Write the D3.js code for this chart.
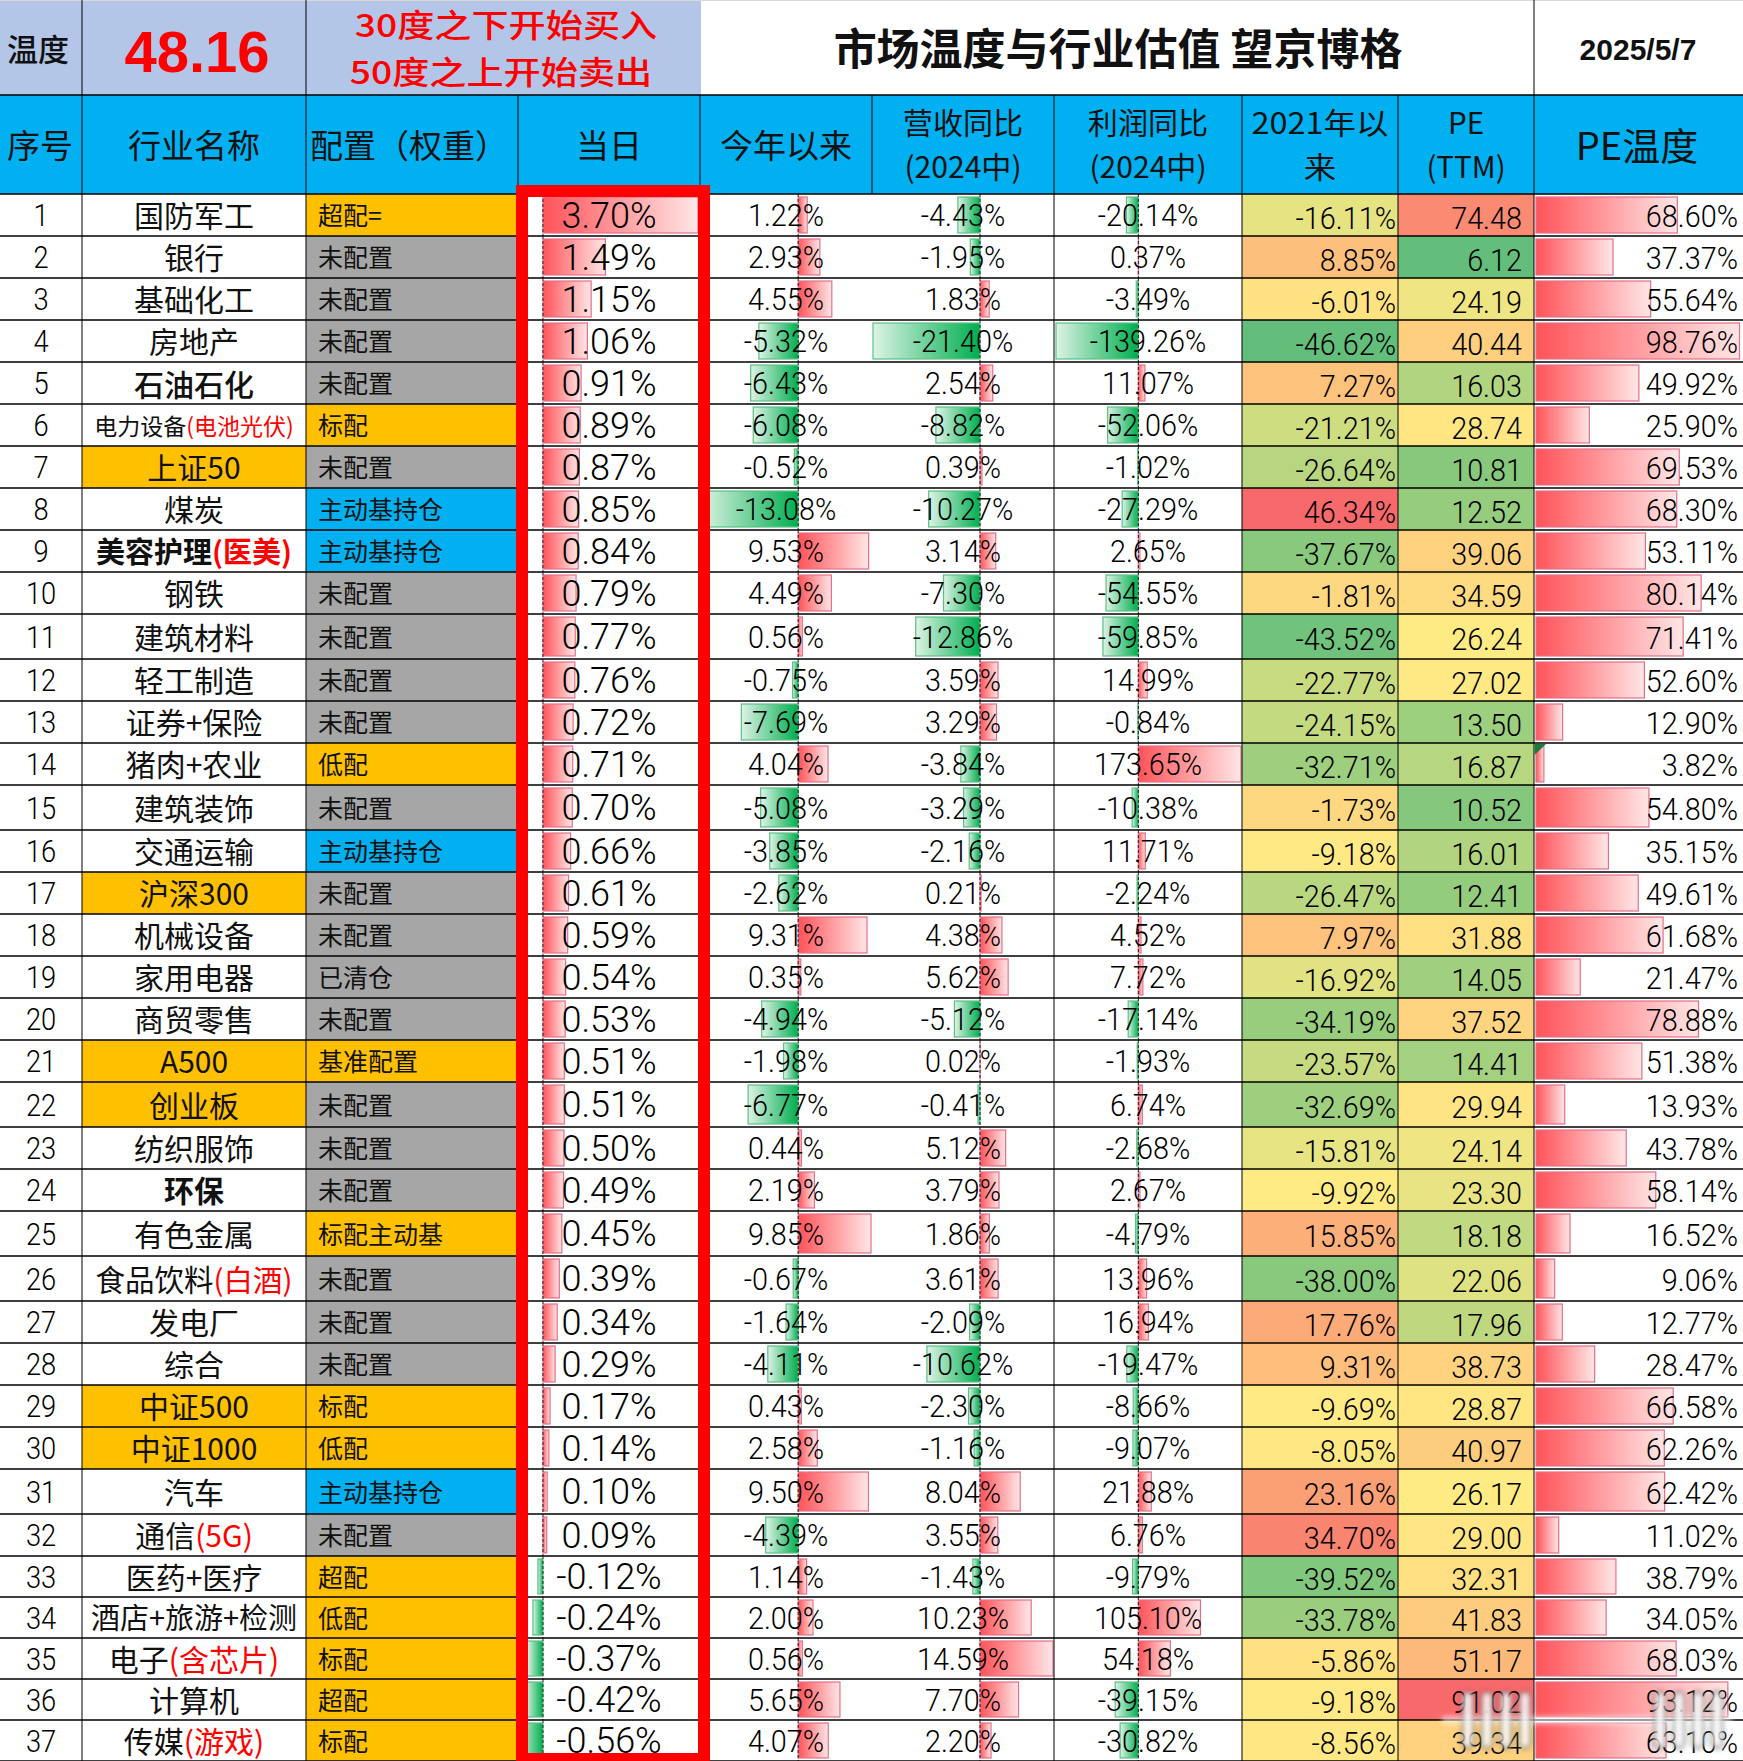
<!DOCTYPE html>
<html><head><meta charset="utf-8">
<style>html,body{margin:0;padding:0;background:#fff;overflow:hidden}svg{display:block}</style>
<script src="https://cdn.jsdelivr.net/npm/d3@7"></script></head><body>
<script>
const names=["国防军工","银行","基础化工","房地产","石油石化","电力设备","上证50","煤炭","美容护理","钢铁","建筑材料","轻工制造","证券+保险","猪肉+农业","建筑装饰","交通运输","沪深300","机械设备","家用电器","商贸零售","A500","创业板","纺织服饰","环保","有色金属","食品饮料","发电厂","综合","中证500","中证1000","汽车","通信","医药+医疗","酒店+旅游+检测","电子","计算机","传媒"];
const nameNotes={"电力设备":"(电池光伏)","美容护理":"(医美)","食品饮料":"(白酒)","通信":"(5G)","电子":"(含芯片)","传媒":"(游戏)"};
const indexNames=["上证50","沪深300","A500","创业板","中证500","中证1000"];
const configs=["超配=","未配置","未配置","未配置","未配置","标配","未配置","主动基持仓","主动基持仓","未配置","未配置","未配置","未配置","低配","未配置","主动基持仓","未配置","未配置","已清仓","未配置","基准配置","未配置","未配置","未配置","标配主动基","未配置","未配置","未配置","标配","低配","主动基持仓","未配置","超配","低配","标配","超配","标配"];
const daily=[3.70,1.49,1.15,1.06,0.91,0.89,0.87,0.85,0.84,0.79,0.77,0.76,0.72,0.71,0.70,0.66,0.61,0.59,0.54,0.53,0.51,0.51,0.50,0.49,0.45,0.39,0.34,0.29,0.17,0.14,0.10,0.09,-0.12,-0.24,-0.37,-0.42,-0.56];
const ytd=[1.22,2.93,4.55,-5.32,-6.43,-6.08,-0.52,-13.08,9.53,4.49,0.56,-0.75,-7.69,4.04,-5.08,-3.85,-2.62,9.31,0.35,-4.94,-1.98,-6.77,0.44,2.19,9.85,-0.67,-1.64,-4.11,0.43,2.58,9.50,-4.39,1.14,2.00,0.56,5.65,4.07];
const revenue=[-4.43,-1.95,1.83,-21.40,2.54,-8.82,0.39,-10.27,3.14,-7.30,-12.86,3.59,3.29,-3.84,-3.29,-2.16,0.21,4.38,5.62,-5.12,0.02,-0.41,5.12,3.79,1.86,3.61,-2.09,-10.62,-2.30,-1.16,8.04,3.55,-1.43,10.23,14.59,7.70,2.20];
const profit=[-20.14,0.37,-3.49,-139.26,11.07,-52.06,-1.02,-27.29,2.65,-54.55,-59.85,14.99,-0.84,173.65,-10.38,11.71,-2.24,4.52,7.72,-17.14,-1.93,6.74,-2.68,2.67,-4.79,13.96,16.94,-19.47,-8.66,-9.07,21.88,6.76,-9.79,105.10,54.18,-39.15,-30.82];
const since2021=[-16.11,8.85,-6.01,-46.62,7.27,-21.21,-26.64,46.34,-37.67,-1.81,-43.52,-22.77,-24.15,-32.71,-1.73,-9.18,-26.47,7.97,-16.92,-34.19,-23.57,-32.69,-15.81,-9.92,15.85,-38.00,17.76,9.31,-9.69,-8.05,23.16,34.70,-39.52,-33.78,-5.86,-9.18,-8.56];
const pe=[74.48,6.12,24.19,40.44,16.03,28.74,10.81,12.52,39.06,34.59,26.24,27.02,13.50,16.87,10.52,16.01,12.41,31.88,14.05,37.52,14.41,29.94,24.14,23.30,18.18,22.06,17.96,38.73,28.87,40.97,26.17,29.00,32.31,41.83,51.17,91.02,39.34];
const peTemp=[68.60,37.37,55.64,98.76,49.92,25.90,69.53,68.30,53.11,80.14,71.41,52.60,12.90,3.82,54.80,35.15,49.61,61.68,21.47,78.88,51.38,13.93,43.78,58.14,16.52,9.06,12.77,28.47,66.58,62.26,62.42,11.02,38.79,34.05,68.03,93.12,63.10];
const headers=[["序号"],["行业名称"],["配置（权重）"],["当日"],["今年以来"],["营收同比","(2024中)"],["利润同比","(2024中)"],["2021年以","来"],["PE","(TTM)"],["PE温度"]];

const W=1743,H=1761;
const CJK="'Noto Sans CJK SC','Noto Sans CJK JP',sans-serif", NUM="Roboto,'Liberation Sans',sans-serif";
const colX=[0,82,306,518,700,872,1054,1242,1398,1534,1743];
const tallRows=[11,15,22,25,26,31];
const rowH=names.map((_,i)=>tallRows.includes(i+1)?45:(i+1>=33?41:42));
const edges=[194,...d3.cumsum(rowH).map(v=>194+v)];
const yTop=i=>edges[i], yMid=i=>(edges[i]+edges[i+1])/2;

const svg=d3.select("body").append("svg").attr("width",W).attr("height",H);
const defs=svg.append("defs");
function grad(id,a,b){const g=defs.append("linearGradient").attr("id",id).attr("x1",0).attr("x2",1).attr("y1",0).attr("y2",0);
 g.append("stop").attr("offset",0).attr("stop-color",a);g.append("stop").attr("offset",1).attr("stop-color",b);}
grad("gr","#FF5359","#FFE6E6");grad("gg","#DDF3E5","#00AE4F");
defs.append("filter").attr("id","blur").append("feGaussianBlur").attr("stdDeviation",2.5);

svg.append("rect").attr("x",0).attr("y",0).attr("width",701).attr("height",95).attr("fill","#B4C6E7");
svg.append("rect").attr("x",0).attr("y",95).attr("width",W).attr("height",99).attr("fill","#00B0F0");
svg.append("rect").attr("x",0).attr("y",0).attr("width",W).attr("height",1).attr("fill","#d9d9d9");

const orange="#FFC000",gray="#A6A6A6",blue="#00B0F0";
const cfgFill=c=>c==="主动基持仓"?blue:(c==="未配置"||c==="已清仓")?gray:orange;
const colorAt=v=>d3.scaleLinear().domain([d3.min(v),d3.median(v),d3.max(v)]).range(["#63BE7B","#FFEB84","#F8696B"]);
const cS=colorAt(since2021), cP=colorAt(pe);
const rows=svg.append("g").selectAll("g").data(names).join("g");
rows.filter(d=>indexNames.includes(d)).append("rect").attr("x",colX[1]).attr("width",colX[2]-colX[1]).attr("y",(d)=>yTop(names.indexOf(d))).attr("height",d=>rowH[names.indexOf(d)]).attr("fill",orange);
rows.append("rect").attr("x",colX[2]).attr("width",colX[3]-colX[2]).attr("y",(d,i)=>yTop(i)).attr("height",(d,i)=>rowH[i]).attr("fill",(d,i)=>cfgFill(configs[i]));
rows.append("rect").attr("x",colX[7]).attr("width",colX[8]-colX[7]).attr("y",(d,i)=>yTop(i)).attr("height",(d,i)=>rowH[i]).attr("fill",(d,i)=>cS(since2021[i]));
rows.append("rect").attr("x",colX[8]).attr("width",colX[9]-colX[8]).attr("y",(d,i)=>yTop(i)).attr("height",(d,i)=>rowH[i]).attr("fill",(d,i)=>cP(pe[i]));

const barCols=[
 {v:daily,x:d3.scaleLinear().domain([d3.min(daily),d3.max(daily)]).range([519.5,698]),axis:true},
 {v:ytd,x:d3.scaleLinear().domain([d3.min(ytd),d3.max(ytd)]).range([701.5,871]),axis:true},
 {v:revenue,x:d3.scaleLinear().domain([d3.min(revenue),d3.max(revenue)]).range([873,1053]),axis:true},
 {v:profit,x:d3.scaleLinear().domain([d3.min(profit),d3.max(profit)]).range([1056,1241]),axis:true},
 {v:peTemp,x:d3.scaleLinear().domain([0,d3.max(peTemp)]).range([1536,1739.5]),axis:false}
];
barCols.forEach(c=>{
 const g=svg.append("g");
 g.selectAll("rect").data(c.v).join("rect")
  .attr("x",d=>Math.min(c.x(0),c.x(d))).attr("width",d=>Math.abs(c.x(d)-c.x(0)))
  .attr("y",(d,i)=>yTop(i)+3).attr("height",(d,i)=>rowH[i]-6)
  .attr("fill",d=>d<0?"url(#gg)":"url(#gr)")
  .attr("stroke",d=>d<0?"#5CC085":"#E4708A").attr("stroke-width",1.2);
 if(c.axis) g.selectAll("line").data(c.v).join("line")
  .attr("x1",c.x(0)).attr("x2",c.x(0)).attr("y1",(d,i)=>yTop(i)).attr("y2",(d,i)=>yTop(i+1))
  .attr("stroke","#222").attr("stroke-width",1).attr("stroke-dasharray","3,2");
});

const grid=svg.append("g").attr("stroke","#000");
grid.selectAll("line.h").data(edges).join("line").attr("x1",0).attr("x2",W).attr("y1",d=>d).attr("y2",d=>d).attr("stroke-width",1.4);
grid.append("line").attr("x1",0).attr("x2",W).attr("y1",95).attr("y2",95).attr("stroke-width",1.4);
[82,306,1054,1242,1398,1534].forEach(x=>grid.append("line").attr("x1",x).attr("x2",x).attr("y1",194).attr("y2",edges[37]).attr("stroke-width",1));
colX.slice(1,-1).forEach(x=>grid.append("line").attr("x1",x).attr("x2",x).attr("y1",95).attr("y2",194).attr("stroke-width",1));
[82,306,1534].forEach(x=>grid.append("line").attr("x1",x).attr("x2",x).attr("y1",0).attr("y2",95).attr("stroke-width",1));
grid.append("line").attr("x1",518).attr("x2",518).attr("y1",194).attr("y2",edges[37]).attr("stroke-width",1);

function num(x,y,t,size,anchor,opts={}){
 const sx=opts.sx||0.93;
 return svg.append("text").attr("transform",`translate(${x},${y+size*0.355}) scale(${sx},1)`)
  .attr("text-anchor",anchor).attr("font-family",NUM).attr("font-weight",opts.w||300)
  .attr("font-size",size).attr("fill",opts.fill||"#000").text(t);
}
function cjk(x,y,t,size,anchor,opts={}){
 return svg.append("text").attr("transform",`translate(${x},${y+size*0.36}) scale(${opts.sx||1},1)`)
  .attr("text-anchor",anchor).attr("font-family",CJK).attr("font-weight",opts.w||400)
  .attr("font-size",size).attr("fill",opts.fill||"#111").text(t);
}
const pct=v=>v.toFixed(2)+"%";

cjk(38,50,"温度",31,"middle",{w:500});
svg.append("text").attr("x",197).attr("y",72).attr("text-anchor","middle").attr("font-family","'Liberation Sans',sans-serif").attr("font-weight",700).attr("font-size",58).attr("fill","#FF0000").text("48.16");
cjk(506,26,"30度之下开始买入",31.5,"middle",{fill:"#FF0000",w:500,sx:1.18});
cjk(501,73,"50度之上开始卖出",31.5,"middle",{fill:"#FF0000",w:500,sx:1.18});
cjk(1118,50,"市场温度与行业估值 望京博格",43,"middle",{fill:"#111",w:700});
svg.append("text").attr("x",1638).attr("y",60).attr("text-anchor","middle").attr("font-family","'Liberation Sans',sans-serif").attr("font-weight",700).attr("font-size",30).attr("fill","#111").text("2025/5/7");

const headX=[40,194,null,609,786,963,1148,1320,1466,1637];
headers.forEach((h,i)=>{
 if(i===2){cjk(310,146,h[0],33,"start");return;}
 if(h.length===1){cjk(headX[i],146,h[0],i===9?38:33,"middle");return;}
 const opts=i===7?{sx:1.1}:{};
 cjk(headX[i],123,h[0],29.5,"middle",i===5||i===6?{sx:1.02}:opts);
 cjk(headX[i],167,h[1],29.5,"middle",i===5||i===6?{sx:1.02}:opts);
});

const nameSize={"电力设备":23,"美容护理":29,"食品饮料":29.5,"酒店+旅游+检测":29};
const nameWeight={"石油石化":500,"美容护理":700,"环保":700};
names.forEach((n,i)=>{
 const ym=yMid(i);
 num(41,ym,String(i+1),31,"middle",{sx:.88});
 const fs=nameSize[n]||30;
 const t=cjk(194,ym+(n==="石油石化"?2.5:1.5),n,fs,"middle",{w:nameWeight[n]||400});
 if(nameNotes[n]) t.append("tspan").attr("fill","#FF0000").text(nameNotes[n]);
 cjk(318,ym+1,configs[i],25,"start");
 num(609,ym,pct(daily[i]),36,"middle",{sx:1});
 num(786,ym,pct(ytd[i]),31,"middle");
 num(963,ym,pct(revenue[i]),31,"middle");
 num(1148,ym,pct(profit[i]),31,"middle");
 num(1396,ym+2.5,pct(since2021[i]),31,"end");
 num(1522,ym+2.5,pe[i].toFixed(2),31,"end");
 num(1738,ym+1,pct(peTemp[i]),31,"end");
});

const m=names.indexOf("猪肉+农业");
svg.append("path").attr("d",d3.line()([[1534.5,yTop(m)+1],[1546,yTop(m)+1],[1534.5,yTop(m)+12]])).attr("fill","#1F7A3A");

svg.append("rect").attr("x",522).attr("y",191).attr("width",182).attr("height",1568).attr("fill","none").attr("stroke","#FF0000").attr("stroke-width",12);

const wm=svg.append("g").attr("filter","url(#blur)");
wm.append("rect").attr("x",1442).attr("y",1716).attr("width",290).attr("height",8).attr("fill","#fff").attr("opacity",.55);
[1463,1482,1501,1520,1655,1674,1693,1712].forEach(x=>wm.append("rect").attr("x",x).attr("y",1692).attr("width",10).attr("height",56).attr("rx",5).attr("fill","#fff").attr("fill-opacity",.85).attr("stroke","#333").attr("stroke-width",2));
</script></body></html>
